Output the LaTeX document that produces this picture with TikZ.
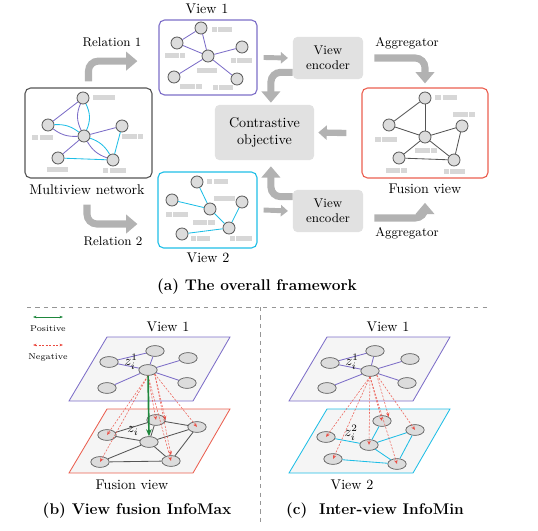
\documentclass[tikz,border=0pt]{standalone}
\usepackage{tikz}
\usetikzlibrary{arrows.meta}
\usetikzlibrary{shapes.geometric}
\usetikzlibrary{positioning}
\usetikzlibrary{calc}

\definecolor{viewpurple}{RGB}{125,110,200}
\definecolor{viewcyan}{RGB}{30,190,230}
\definecolor{fusered}{RGB}{235,95,80}
\definecolor{negred}{RGB}{235,75,65}
\definecolor{posgreen}{RGB}{30,135,60}
\definecolor{arrowgray}{RGB}{178,178,178}
\definecolor{boxfill}{RGB}{225,225,225}
\definecolor{nodefill}{RGB}{220,220,220}
\definecolor{nodedraw}{RGB}{95,95,95}
\definecolor{tagfill}{RGB}{215,215,215}
\definecolor{planefill}{RGB}{245,245,245}
\definecolor{edgegray}{RGB}{85,85,85}
\definecolor{mvgray}{RGB}{85,85,85}
\definecolor{sepgray}{RGB}{150,150,150}

\tikzset{gnode/.style={circle, draw=nodedraw, fill=nodefill, line width=0.6pt, minimum size=0.3cm, inner sep=0pt}}
\tikzset{enode/.style={ellipse, draw=nodedraw, fill=nodefill, line width=0.5pt, minimum width=0.46cm, minimum height=0.27cm, inner sep=0pt}}
\tikzset{graphbox/.style={draw, rounded corners=4pt, line width=0.8pt, inner sep=0pt}}
\tikzset{grayblock/.style={fill=boxfill, rounded corners=3pt, align=center, inner sep=0pt}}
\tikzset{fatarrow/.style={draw=arrowgray, line width=5pt, rounded corners=7pt, -{Triangle[width=13pt,length=8pt]}}}
\tikzset{midarrow/.style={draw=arrowgray, line width=4.5pt, -{Triangle[width=10pt,length=6pt]}}}
\tikzset{thinarrow/.style={draw=arrowgray, line width=3.5pt, -{Triangle[width=8pt,length=5pt]}}}
\tikzset{pedge/.style={draw=viewpurple, line width=0.6pt}}
\tikzset{cedge/.style={draw=viewcyan, line width=0.6pt}}
\tikzset{gedge/.style={draw=edgegray, line width=0.6pt}}
\tikzset{plane/.style={fill=planefill, line width=0.6pt}}
\tikzset{negarrow/.style={draw=negred, draw opacity=0.85, dash pattern=on 1.5pt off 1pt, line width=0.4pt, -{Stealth[length=3pt,width=2.5pt]}}}
\tikzset{posarrow/.style={draw=posgreen, line width=1.2pt, -{Stealth[length=5pt,width=4pt]}}}
\tikzset{capfont/.style={font=\fontsize{11}{13}\selectfont\bfseries}}

\newcommand{\blob}[3]{\fill[tagfill] (#1,#2) rectangle ++(#3,5);}

\begin{document}
\begin{tikzpicture}[x=0.025cm, y=-0.025cm]
\useasboundingbox (0,0) rectangle (538,531);

% boxes of part (a)
\node[graphbox, draw=mvgray, minimum width=3.175cm, minimum height=2.25cm] (mv) at (88.5,133) {};
\node[graphbox, draw=viewpurple, minimum width=2.45cm, minimum height=1.875cm] (view1) at (208,57.5) {};
\node[graphbox, draw=viewcyan, minimum width=2.475cm, minimum height=1.9cm] (view2) at (207.5,210) {};
\node[graphbox, draw=fusered, minimum width=3.15cm, minimum height=2.25cm] (fusion) at (425,133) {};

\node[grayblock, minimum width=1.75cm, minimum height=1.05cm, font=\small] (enc1) at (328,58) {View\\encoder};
\node[grayblock, minimum width=1.75cm, minimum height=1.05cm, font=\small] (enc2) at (328,211) {View\\encoder};
\node[grayblock, minimum width=2.475cm, minimum height=1.375cm] (contr) at (264.5,132.5) {Contrastive\\objective};

\node[] (v1lbl) at (207,9) {View 1};
\node[] (v2lbl) at (208,258) {View 2};
\node[] (mvlbl) at (87,190) {Multiview network};
\node[] (fuslbl) at (425,189) {Fusion view};
\node[font=\small] (rel1) at (112,42) {Relation 1};
\node[font=\small] (rel2) at (113,241) {Relation 2};
\node[font=\small] (agg1) at (407,43) {Aggregator};
\node[font=\small] (agg2) at (407,233) {Aggregator};
\node[capfont] (capa) at (257,287) {(a) The overall framework};

% multiview network
\node[gnode] (m1) at (83,98) {};
\node[gnode] (m2) at (48,125) {};
\node[gnode] (m3) at (84,136) {};
\node[gnode] (m4) at (122,126) {};
\node[gnode] (m5) at (58,158) {};
\node[gnode] (m6) at (113,160) {};
\draw[pedge] (m1) -- (m2);
\draw[pedge] (m1) to[bend right=25] (m3);
\draw[cedge] (m1) to[bend left=25] (m3);
\draw[pedge] (m2) to[bend right=20] (m3);
\draw[cedge] (m2) to[bend left=20] (m3);
\draw[pedge] (m3) -- (m4);
\draw[pedge] (m3) -- (m5);
\draw[pedge] (m3) to[bend right=20] (m6);
\draw[cedge] (m3) to[bend left=20] (m6);
\draw[cedge] (m5) -- (m6);
\draw[cedge] (m4) -- (m6);
\blob{93}{95}{6}\blob{99}{95}{16}
\blob{32}{135}{6}\blob{40}{135}{13}
\blob{122}{134}{15}\blob{138}{134}{5}
\blob{47}{167}{21}
\blob{103}{168}{5}\blob{110}{168}{16}

% view 1
\node[gnode] (a1) at (201,28) {};
\node[gnode] (a2) at (177,43) {};
\node[gnode] (a3) at (208,56) {};
\node[gnode] (a4) at (242,47) {};
\node[gnode] (a5) at (174,77) {};
\node[gnode] (a6) at (237,79) {};
\draw[pedge] (a1) -- (a2);
\draw[pedge] (a1) -- (a3);
\draw[pedge] (a2) -- (a3);
\draw[pedge] (a3) -- (a4);
\draw[pedge] (a3) -- (a5);
\draw[pedge] (a3) -- (a6);
\blob{212}{27}{5}\blob{218}{27}{14}
\blob{165}{53}{14}\blob{180}{53}{5}
\blob{197}{68}{20}
\blob{231}{58}{5}\blob{237}{58}{15}
\blob{180}{84}{15}\blob{196}{84}{6}
\blob{213}{85}{5}\blob{219}{85}{14}

% view 2
\node[gnode] (b1) at (197,182) {};
\node[gnode] (b2) at (172,200) {};
\node[gnode] (b3) at (210,209) {};
\node[gnode] (b4) at (242,202) {};
\node[gnode] (b5) at (182,234) {};
\node[gnode] (b6) at (229,228) {};
\draw[cedge] (b1) -- (b3);
\draw[cedge] (b2) -- (b3);
\draw[cedge] (b3) -- (b6);
\draw[cedge] (b4) -- (b6);
\draw[cedge] (b5) -- (b6);
\blob{207}{179}{5}\blob{214}{179}{14}
\blob{214}{196}{21}
\blob{166}{212}{6}\blob{173}{212}{15}
\blob{193}{220}{14}\blob{208}{220}{7}
\blob{191}{236}{5}\blob{197}{236}{13}
\blob{230}{236}{5}\blob{236}{236}{16}

% fusion view
\node[gnode] (f1) at (425,98) {};
\node[gnode] (f2) at (389,125) {};
\node[gnode] (f3) at (425,137) {};
\node[gnode] (f4) at (462,126) {};
\node[gnode] (f5) at (399,158) {};
\node[gnode] (f6) at (454,160) {};
\draw[gedge] (f1) -- (f2);
\draw[gedge] (f1) -- (f3);
\draw[gedge] (f2) -- (f3);
\draw[gedge] (f3) -- (f4);
\draw[gedge] (f3) -- (f5);
\draw[gedge] (f3) -- (f6);
\draw[gedge] (f5) -- (f6);
\draw[gedge] (f4) -- (f6);
\blob{435}{95}{6}\blob{443}{95}{14}
\blob{453}{112}{15}\blob{469}{112}{6}
\blob{375}{137}{6}\blob{382}{137}{15}
\blob{415}{148}{15}\blob{431}{148}{6}
\blob{386}{168}{14}\blob{401}{168}{6}
\blob{444}{169}{5}\blob{450}{169}{15}

% gray arrows
\draw[fatarrow] ([yshift=0.15cm]mv.north) |- ([xshift=-0.525cm, yshift=-0.09cm]view1.west);
\draw[fatarrow] ([yshift=-0.12cm]mvlbl.south) |- ([xshift=-0.5cm, yshift=-0.35cm]view2.west);
\draw[thinarrow] ([xshift=0.15cm]view1.east) -- ([xshift=-0.12cm]enc1.west);
\draw[thinarrow] ([xshift=0.15cm]view2.east) -- ([xshift=-0.12cm]enc2.west);
\draw[fatarrow] ([yshift=0.175cm]enc1.south west) -| ([xshift=0.16cm, yshift=0.05cm]contr.north);
\draw[fatarrow] ([yshift=-0.175cm]enc2.north west) -| ([xshift=0.16cm, yshift=-0.15cm]contr.south);
\draw[midarrow] ([xshift=-0.375cm]fusion.west) -- ([xshift=0.1cm]contr.east);
\draw[fatarrow] ([xshift=0.275cm]enc1.east) -| ([yshift=0.1cm]fusion.north);
\draw[fatarrow] ([xshift=0.275cm, yshift=-0.175cm]enc2.east) -| ([yshift=-0.1cm]fuslbl.south);

% separators
\draw[sepgray, dashed, line width=0.5pt] (27,307) -- (490,307);
\draw[sepgray, dashed, line width=0.5pt] (260,307) -- (260,523);

% legend
\coordinate (posA) at (33,317);
\coordinate (posB) at (63,317);
\coordinate (negA) at (33,345);
\coordinate (negB) at (63,345);
\draw[draw=posgreen, line width=0.5pt, {Stealth[length=2.5pt]}-{Stealth[length=2.5pt]}] (posA) -- (posB);
\draw[draw=negred, dash pattern=on 1.5pt off 1pt, line width=0.5pt, {Stealth[length=2.5pt]}-{Stealth[length=2.5pt]}] (negA) -- (negB);
\node[font=\fontsize{6}{7}\selectfont] (poslbl) at (48,329) {Positive};
\node[font=\fontsize{6}{7}\selectfont] (neglbl) at (48,357) {Negative};

% part (b)
\draw[plane, draw=viewpurple] (107,337) -- (230,337) -- (193,401) -- (69,401) -- cycle;
\node[enode] (u1) at (155,351) {};
\node[enode] (u2) at (109,362) {};
\node[enode] (u3) at (148,370) {};
\node[enode] (u4) at (188,358) {};
\node[enode] (u5) at (107,388) {};
\node[enode] (u6) at (187,383) {};
\draw[pedge] (u1) -- (u2);
\draw[pedge] (u1) -- (u3);
\draw[pedge] (u2) -- (u3);
\draw[pedge] (u3) -- (u4);
\draw[pedge] (u3) -- (u5);
\draw[pedge] (u3) -- (u6);
\node[inner sep=1pt] (zb1) at (131,362) {$z_i^1$};

\draw[plane, draw=fusered] (107,409) -- (230,409) -- (193,473) -- (69,473) -- cycle;
\node[enode] (l1) at (156,420) {};
\node[enode] (l2) at (107,435) {};
\node[enode] (l3) at (149,442) {};
\node[enode] (l4) at (197,427) {};
\node[enode] (l5) at (100,462) {};
\node[enode] (l6) at (171,461) {};
\draw[gedge] (l1) -- (l2);
\draw[gedge] (l1) -- (l3);
\draw[gedge] (l1) -- (l4);
\draw[gedge] (l2) -- (l3);
\draw[gedge] (l3) -- (l4);
\draw[gedge] (l3) -- (l5);
\draw[gedge] (l3) -- (l6);
\draw[gedge] (l5) -- (l6);
\draw[gedge] (l4) -- (l6);
\node[inner sep=1pt] (zb2) at (133,431) {$z_i$};

\draw[negarrow] (u3.south) -- (l2.center);
\draw[negarrow] (u3.south) -- (l5.center);
\draw[negarrow] (u3.south) -- (l1.center);
\draw[negarrow] (u3.south east) -- (l1.east);
\draw[negarrow] (u3.south) -- (l6.center);
\draw[negarrow] (u3.south east) -- (l6.north);
\draw[negarrow] (u3.south east) -- (l4.center);
\draw[posarrow] (u3) -- (l3.north);

\node[] (b1lbl) at (168,327) {View 1};
\node[] (b2lbl) at (132,485) {Fusion view};
\node[capfont] (capb) at (137,511) {(b) View fusion InfoMax};

% part (c)
\draw[plane, draw=viewpurple] (327,337) -- (450,337) -- (413,401) -- (289,401) -- cycle;
\node[enode] (v1) at (375,351) {};
\node[enode] (v2) at (330,363) {};
\node[enode] (v3) at (370,371) {};
\node[enode] (v4) at (410,359) {};
\node[enode] (v5) at (327,388) {};
\node[enode] (v6) at (407,383) {};
\draw[pedge] (v1) -- (v2);
\draw[pedge] (v1) -- (v3);
\draw[pedge] (v2) -- (v3);
\draw[pedge] (v3) -- (v4);
\draw[pedge] (v3) -- (v5);
\draw[pedge] (v3) -- (v6);
\node[inner sep=1pt] (zc1) at (352,362) {$z_i^1$};

\draw[plane, draw=viewcyan] (327,409) -- (450,409) -- (413,473) -- (289,473) -- cycle;
\node[enode] (w1) at (382,421) {};
\node[enode] (w2) at (326,437) {};
\node[enode] (w3) at (369,445) {};
\node[enode] (w4) at (415,430) {};
\node[enode] (w5) at (333,459) {};
\node[enode] (w6) at (397,464) {};
\draw[cedge] (w1) -- (w3);
\draw[cedge] (w2) -- (w3);
\draw[cedge] (w3) -- (w4);
\draw[cedge] (w3) -- (w6);
\draw[cedge] (w4) -- (w6);
\draw[cedge] (w5) -- (w6);
\node[inner sep=1pt] (zc2) at (351,433) {$z_i^2$};

\draw[negarrow] (v3.south) -- (w2.center);
\draw[negarrow] (v3.south) -- (w5.center);
\draw[negarrow] (v3.south) -- (w3.center);
\draw[negarrow] (v3.south) -- (w1.center);
\draw[negarrow] (v3.south east) -- (w1.north east);
\draw[negarrow] (v3.south) -- (w6.center);
\draw[negarrow] (v3.south east) -- (w4.center);

\node[] (c1lbl) at (388,327) {View 1};
\node[] (c2lbl) at (352,485) {View 2};
\node[capfont] (capc) at (375,511) {(c)~~Inter-view InfoMin};

\end{tikzpicture}
\end{document}
